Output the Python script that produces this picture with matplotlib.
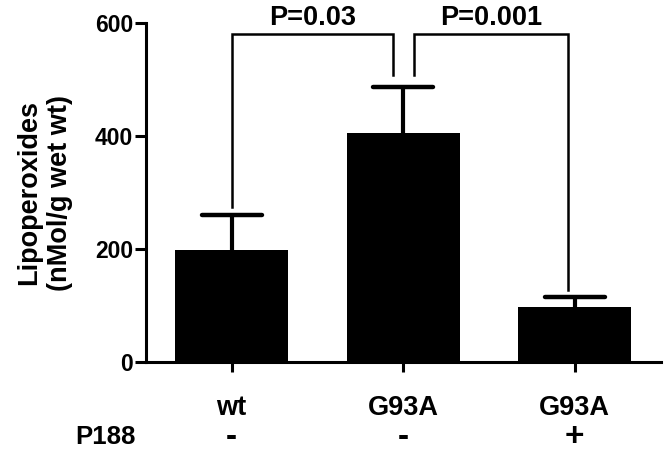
import matplotlib
matplotlib.use('Agg')
import matplotlib.pyplot as plt
import numpy as np

plt.rcParams['font.family'] = ['Liberation Sans', 'DejaVu Sans']
plt.rcParams['font.weight'] = 'bold'

# data
groups = ['wt', 'G93A', 'G93A']
p188 = ['-', '-', '+']
means = [198, 405, 97]
errs = [62, 82, 18]
# significance brackets: (left x, right x, label, left leg bottom, right leg bottom)
brackets = [(0, 0.94, 'P=0.03', 274, 508), (1.06, 1.96, 'P=0.001', 508, 127)]
bracket_top = 580

fig = plt.figure(figsize=(6.66, 4.53), dpi=100)
ax = fig.add_axes([0.219, 0.201, 0.773, 0.748])

x = np.arange(len(groups))
tops = np.array(means) + np.array(errs)
# upward error bars only
ax.vlines(x, means, tops, color='black', lw=3, zorder=1)
ax.hlines(tops, x - 0.175, x + 0.175, color='black', lw=3.2, zorder=1, capstyle='round')
ax.bar(x, means, width=0.66, color='black', zorder=2)

for x1, x2, label, b1, b2 in brackets:
    ax.plot([x1, x1, x2, x2], [b1, bracket_top, bracket_top, b2], color='black', lw=1.8,
            solid_joinstyle='miter', clip_on=False)
    ax.text((x1 + x2) / 2, bracket_top + 6, label, ha='center', va='bottom',
            fontsize=19.5, fontweight='bold')

ax.set_xlim(-0.5, 2.5)
ax.set_ylim(0, 600)
ax.set_yticks([0, 200, 400, 600])
ax.set_xticks(x)
ax.set_xticklabels(groups)
ax.tick_params(axis='both', width=2.2, direction='out')
ax.tick_params(axis='y', length=8, pad=1, labelsize=16.5)
ax.tick_params(axis='x', length=7.5, pad=16, labelsize=19.5)
for lab in ax.get_xticklabels() + ax.get_yticklabels():
    lab.set_fontweight('bold')

for s in ['top', 'right']:
    ax.spines[s].set_visible(False)
for s in ['left', 'bottom']:
    ax.spines[s].set_linewidth(2.2)

ax.set_ylabel('Lipoperoxides\n(nMol/g wet wt)', fontsize=19.5, fontweight='bold',
              labelpad=16, linespacing=1.25)

trans = ax.get_xaxis_transform()
for xi, sign in zip(x, p188):
    ax.text(xi, -0.222, sign, transform=trans, ha='center', va='center',
            fontsize=24, fontweight='bold')
ax.text(-0.56, -0.222, 'P188', transform=trans, ha='right', va='center',
        fontsize=18.5, fontweight='bold')

fig.savefig('out.png', dpi=100)
